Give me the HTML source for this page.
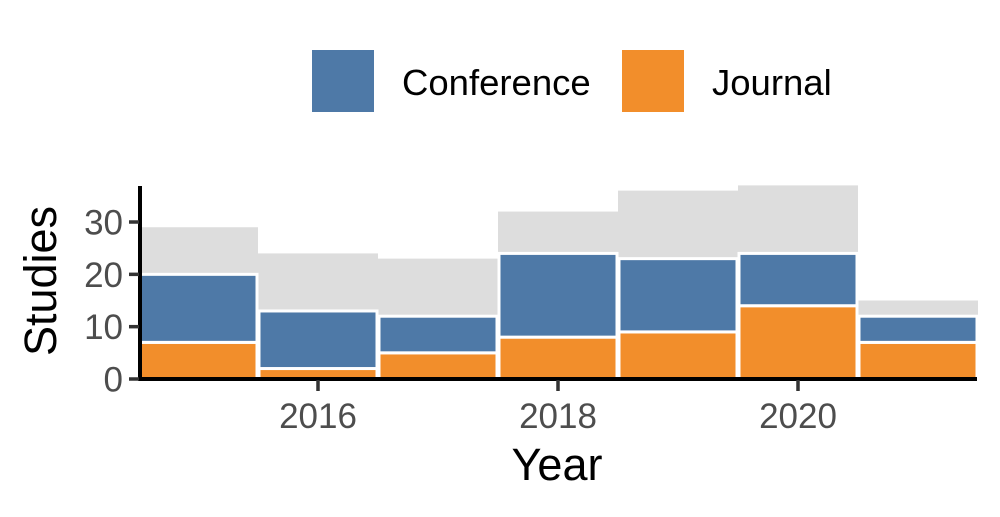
<!DOCTYPE html>
<html><head><meta charset="utf-8"><style>
body{margin:0;background:#fff;}
text{font-family:"Liberation Sans",Arial,sans-serif;}
</style></head><body>
<svg id="c" width="1000" height="512" xmlns="http://www.w3.org/2000/svg">
<g>
<rect x="312" y="50" width="62" height="62" fill="#4e79a7"/>
<text x="402" y="95" font-size="36.5" fill="#000">Conference</text>
<rect x="622" y="50" width="62" height="62" fill="#f28e2b"/>
<text x="712" y="95" font-size="36.5" fill="#000">Journal</text>
</g>
<g id="plot"></g>
<text x="557" y="480" font-size="45" text-anchor="middle" fill="#000">Year</text>
<text transform="translate(56,281) rotate(-90)" font-size="45" text-anchor="middle" fill="#000">Studies</text>
</svg>
<script>
const years=[2015,2016,2017,2018,2019,2020,2021];
const totals=[29,24,23,32,36,37,15];
const journal=[7,2,5,8,9,14,7];
const conference=[13,11,7,16,14,10,5];
const yTicks=[0,10,20,30];
const xTicks=[2016,2018,2020];
const NS='http://www.w3.org/2000/svg';
const g=document.getElementById('plot');
const x=v=>318+(v-2016)*120;
const y=v=>379-v*5.233;
const bw=120;
function mk(t,a){const e=document.createElementNS(NS,t);for(const k in a)e.setAttribute(k,a[k]);g.appendChild(e);return e;}
years.forEach((yr,i)=>{
  const r=mk('rect',{x:x(yr)-bw/2,y:y(totals[i]),width:bw,height:y(0)-y(totals[i]),fill:'#dddddd'});
  
  
});
years.forEach((yr,i)=>{
  const j=mk('rect',{x:x(yr)-bw/2+1,y:y(journal[i]),width:bw-2,height:y(0)-y(journal[i]),fill:'#f28e2b',stroke:'#fff','stroke-width':3});
  
  
  const c=mk('rect',{x:x(yr)-bw/2+1,y:y(journal[i]+conference[i]),width:bw-2,height:y(journal[i])-y(journal[i]+conference[i]),fill:'#4e79a7',stroke:'#fff','stroke-width':3});
  
  
});
const ax=mk('line',{x1:140,y1:186,x2:140,y2:381,stroke:'#000','stroke-width':4});


const bx=mk('line',{x1:138,y1:379,x2:977,y2:379,stroke:'#000','stroke-width':4});


yTicks.forEach(v=>{
  const t=mk('line',{x1:129,y1:y(v),x2:139,y2:y(v),stroke:'#333','stroke-width':3.5});
  
  
  const l=mk('text',{x:123,y:y(v)+12.5,'font-size':35,'text-anchor':'end',fill:'#4d4d4d'});
  l.textContent=v;
  
  
});
xTicks.forEach(v=>{
  const t=mk('line',{x1:x(v),y1:380,x2:x(v),y2:391,stroke:'#333','stroke-width':3.5});
  
  
  const l=mk('text',{x:x(v),y:428,'font-size':35,'text-anchor':'middle',fill:'#4d4d4d'});
  l.textContent=v;
  
  
});
</script>
</body></html>
